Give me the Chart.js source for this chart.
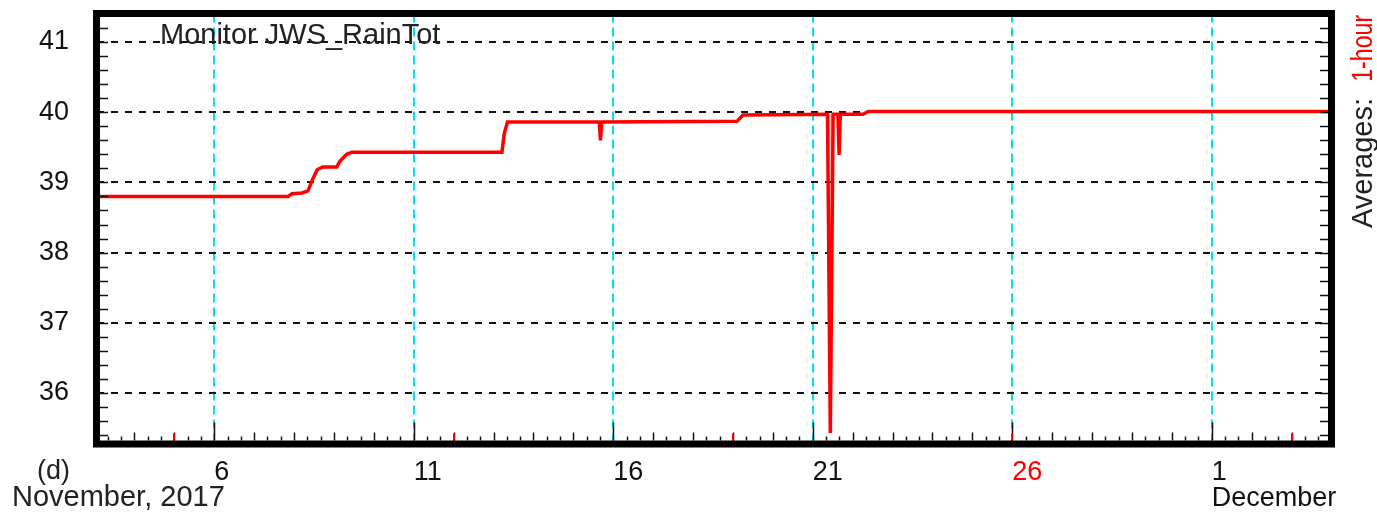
<!DOCTYPE html>
<html>
<head>
<meta charset="utf-8">
<title>Monitor JWS_RainTot</title>
<script src="https://cdn.jsdelivr.net/npm/chart.js@4.4.1/dist/chart.umd.min.js"></script>
<style>
  html, body { margin: 0; padding: 0; background: #fff; }
  canvas { display: block; }
</style>
</head>
<body>
<canvas id="rainChart" width="1377" height="515"></canvas>
<script>
// day of month (Nov 1 = 1, Dec 1 = 31)
const dayValues = [3.05, 7.85, 7.95, 8.20, 8.35, 8.47, 8.58, 8.72, 9.07, 9.15, 9.32, 9.45,
    13.21, 13.27, 13.35, 15.65, 15.68, 15.71, 19.10, 19.25, 21.37, 21.44, 21.51,
    21.63, 21.66, 21.69, 22.26, 22.39, 34.0];
const rainTotValues = [38.80, 38.80, 38.84, 38.85, 38.88, 39.05, 39.18, 39.22, 39.22, 39.30, 39.40, 39.43,
    39.43, 39.70, 39.86, 39.86, 39.60, 39.86, 39.87, 39.96, 39.97, 35.43, 39.97,
    39.97, 39.39, 39.97, 39.97, 40.01, 40.01];

// lighter spread around the drop on the 21st
const spreadDays = [21.36, 21.39, 21.44, 21.49, 21.53];
const spreadValues = [39.97, 37.6, 35.43, 37.6, 39.97];

const xTickDays = [6, 11, 16, 21, 26, 31];
const xTickLabels = ['6', '11', '16', '21', '26', ['1', 'December']];
const yTickValues = [36, 37, 38, 39, 40, 41];
const sundays = [5, 12, 19, 26, 33];

const FONT = "'Liberation Sans', Arial, sans-serif";
const INK = '#111';

const toPoints = (xs, ys) => xs.map((x, i) => ({ x: x, y: ys[i] }));

// frame, inward ticks and loose texts
const framePlugin = {
    id: 'frame',
    afterDraw(chart) {
        const ctx = chart.ctx;
        const a = chart.chartArea;
        const xs = chart.scales.x;
        const ys = chart.scales.y;
        const inL = a.left + 3.5, inR = a.right - 3.5, inB = a.bottom - 3.5;

        ctx.save();
        // y minor ticks every 0.2 on both sides
        ctx.strokeStyle = INK;
        ctx.lineWidth = 1.5;
        for (let k = 177; k <= 207; k++) {
            const py = Math.round(ys.getPixelForValue(k / 5)) + 0.5;
            if (py < a.top + 4 || py > inB - 2) continue;
            ctx.beginPath();
            ctx.moveTo(inL, py); ctx.lineTo(inL + 8, py);
            ctx.moveTo(inR, py); ctx.lineTo(inR - 8, py);
            ctx.stroke();
        }
        // x ticks every 8 hours
        for (let k = 10; k <= 102; k++) {
            const v = k / 3;
            const px = Math.round(xs.getPixelForValue(v)) + 0.5;
            if (px < inL + 2 || px > inR - 2) continue;
            let len = 4;
            if (k % 3 === 0) len = xTickDays.includes(k / 3) ? 18 : 8;
            ctx.beginPath();
            ctx.moveTo(px, inB); ctx.lineTo(px, inB - len);
            ctx.stroke();
        }
        // sundays in red
        ctx.strokeStyle = '#ff0000';
        ctx.lineWidth = 2;
        sundays.forEach(d => {
            const px = Math.round(xs.getPixelForValue(d));
            ctx.beginPath();
            ctx.moveTo(px, a.bottom + 3); ctx.lineTo(px, inB - 7);
            ctx.stroke();
        });

        // thick frame
        ctx.strokeStyle = '#000';
        ctx.lineWidth = 7;
        ctx.strokeRect(a.left, a.top, a.right - a.left, a.bottom - a.top);

        // texts
        ctx.fillStyle = '#222';
        ctx.font = '29px ' + FONT;
        ctx.textAlign = 'left';
        ctx.textBaseline = 'alphabetic';
        ctx.fillText('Monitor JWS_RainTot', 160, 44);

        ctx.textBaseline = 'middle';
        ctx.font = '27px ' + FONT;
        ctx.fillText('(d)', 37, 472);
        ctx.font = '29px ' + FONT;
        ctx.fillText('November, 2017', 12, 498);

        // right side, reading upwards
        ctx.translate(1364, 228);
        ctx.rotate(-Math.PI / 2);
        ctx.fillStyle = '#222';
        ctx.fillText('Averages:', 0, 0);
        const w = ctx.measureText('Averages:  ').width;
        ctx.fillStyle = '#ff0000';
        ctx.translate(w, 0);
        ctx.scale(0.8, 1);
        ctx.fillText('1-hour', 0, 0);
        ctx.restore();
    }
};

new Chart(document.getElementById('rainChart'), {
    type: 'line',
    data: {
        datasets: [{
            label: 'Monitor JWS_RainTot',
            data: toPoints(dayValues, rainTotValues),
            borderColor: '#ff0000',
            borderWidth: 3.5,
            pointRadius: 0,
            tension: 0
        }, {
            label: 'spread',
            data: toPoints(spreadDays, spreadValues),
            borderColor: 'rgba(255, 0, 0, 0.25)',
            backgroundColor: 'rgba(255, 90, 90, 0.35)',
            borderWidth: 1,
            pointRadius: 0,
            fill: { value: 39.97 },
            tension: 0
        }]
    },
    options: {
        responsive: false,
        animation: false,
        layout: { padding: { top: 13.5, right: 45.5, left: 0, bottom: 0 } },
        plugins: {
            legend: { display: false },
            tooltip: { enabled: false }
        },
        scales: {
            x: {
                type: 'linear',
                min: 3.05,
                max: 34.0,
                z: 1,
                afterBuildTicks: (scale) => { scale.ticks = xTickDays.map(v => ({ value: v })); },
                afterFit: (scale) => {
                    scale.height = 71;
                    scale.paddingLeft = 0; scale.paddingRight = 0;
                    scale.paddingTop = 0; scale.paddingBottom = 0;
                },
                grid: { color: '#00e0f0', lineWidth: 2, drawTicks: false },
                border: { display: false, dash: [9, 5] },
                ticks: {
                    autoSkip: false,
                    maxRotation: 0,
                    align: 'start',
                    padding: 16,
                    font: { family: FONT, size: 27, lineHeight: 0.944 },
                    color: (c) => (c.tick && c.tick.value === 26) ? '#ff0000' : INK,
                    callback: (value, index) => xTickLabels[index]
                }
            },
            y: {
                type: 'linear',
                min: 35.274,
                max: 41.406,
                z: 1,
                afterBuildTicks: (scale) => { scale.ticks = yTickValues.map(v => ({ value: v })); },
                afterFit: (scale) => {
                    scale.width = 96.5;
                    scale.paddingLeft = 0; scale.paddingRight = 0;
                    scale.paddingTop = 0; scale.paddingBottom = 0;
                },
                grid: { color: '#111', lineWidth: 2, drawTicks: false },
                border: { display: false, dash: [7, 7] },
                ticks: {
                    padding: 27.5,
                    font: { family: FONT, size: 27 },
                    color: INK,
                    callback: (value) => String(value)
                }
            }
        }
    },
    plugins: [framePlugin]
});
</script>
</body>
</html>
